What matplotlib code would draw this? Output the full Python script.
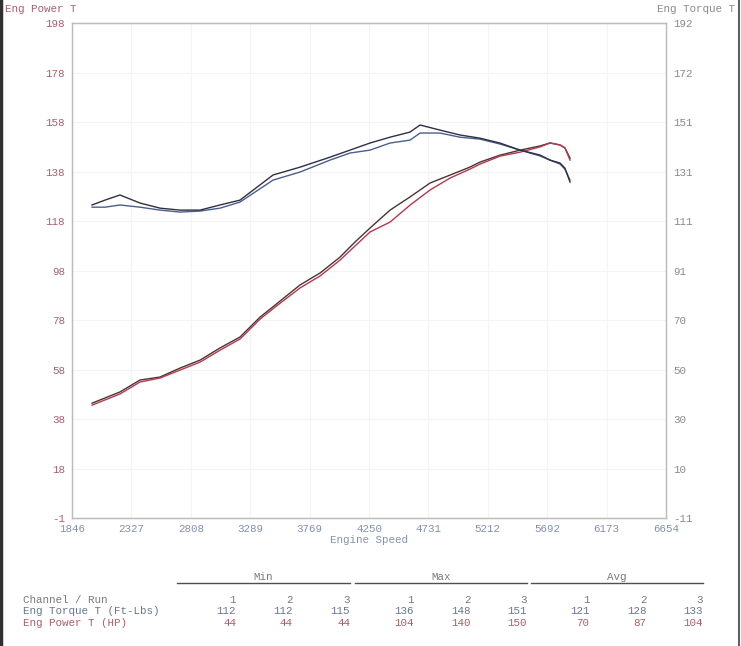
import numpy as np
import matplotlib.pyplot as plt
from matplotlib.lines import Line2D

# engine speed (rpm)
rpm_tq = [2008, 2113, 2234, 2396, 2558, 2720, 2882, 3044, 3206, 3473, 3691, 3934,
          4096, 4258, 4420, 4582, 4663, 4825, 4986, 5148, 5310, 5472, 5634, 5715,
          5796, 5836, 5877]
torque_run3 = [117.4, 119.4, 121.5, 118.2, 116.1, 115.3, 115.3, 117.4, 119.4, 129.7,
               132.9, 137.0, 139.9, 142.8, 145.2, 147.3, 150.2, 148.1, 146.1, 144.8,
               142.8, 139.9, 137.9, 135.8, 134.6, 132.5, 126.8]
torque_run2 = [116.5, 116.5, 117.4, 116.5, 115.3, 114.5, 114.9, 116.1, 118.6, 127.6,
               130.9, 135.8, 138.7, 139.9, 142.8, 144.0, 146.9, 146.9, 145.2, 144.4,
               142.4, 139.9, 137.5, 135.8, 134.2, 132.1, 127.6]

rpm_hp = [2008, 2234, 2396, 2558, 2720, 2882, 3044, 3206, 3368, 3489, 3691, 3853,
          4015, 4137, 4258, 4420, 4582, 4744, 4906, 5067, 5148, 5310, 5472, 5634,
          5715, 5796, 5836, 5877]
power_run3 = [45.2, 49.7, 54.5, 55.7, 59.3, 62.5, 67.4, 71.8, 79.8, 84.6, 92.7, 97.5,
              103.9, 110.0, 115.6, 122.8, 128.1, 133.7, 136.9, 140.1, 142.1, 144.9,
              146.9, 148.6, 149.8, 149.0, 147.8, 143.7]
power_run2 = [44.4, 48.9, 53.7, 55.3, 58.5, 61.7, 66.5, 71.0, 79.0, 83.8, 91.5, 96.3,
              102.7, 108.4, 114.0, 118.0, 124.8, 130.9, 135.7, 139.3, 141.3, 144.5,
              146.1, 148.2, 149.8, 149.0, 147.8, 142.9]

x_labels = ['1846', '2327', '2808', '3289', '3769', '4250', '4731', '5212', '5692', '6173', '6654']
hp_labels = ['-1', '18', '38', '58', '78', '98', '118', '138', '158', '178', '198']
tq_labels = ['-11', '10', '30', '50', '70', '91', '111', '131', '151', '172', '192']

runs = ['1', '2', '3']
tq_min = [112, 112, 115]
tq_max = [136, 148, 151]
tq_avg = [121, 128, 133]
hp_min = [44, 44, 44]
hp_max = [104, 140, 150]
hp_avg = [70, 87, 104]

mono = 'Liberation Mono'
fs = 7.8
c_hp = '#a8606c'
c_tq = '#687690'
c_grey = '#8a8a8a'
c_x = '#8490ae'

fig = plt.figure(figsize=(7.41, 6.46), dpi=100)
fig.patch.set_facecolor('white')
ax = fig.add_axes([0.0972, 0.198, 0.8016, 0.7663])
ax2 = ax.twinx()

ax.set_xlim(1846, 6654)
ax.set_ylim(-1, 198)
ax2.set_ylim(-11, 192)

ax.set_xticks(np.linspace(1846, 6654, 11))
ax.set_xticklabels(x_labels, fontfamily=mono, fontsize=fs, color=c_x)
ax.set_yticks(np.linspace(-1, 198, 11))
ax.set_yticklabels(hp_labels, fontfamily=mono, fontsize=fs, color=c_hp)
ax2.set_yticks(np.linspace(-11, 192, 11))
ax2.set_yticklabels(tq_labels, fontfamily=mono, fontsize=fs, color=c_grey)
ax.tick_params(length=0, pad=5)
ax.tick_params(axis='x', pad=4)
ax2.tick_params(length=0, pad=5)
ax.grid(True, color='#f5f3f3', lw=0.8)
for a in (ax, ax2):
    for s in a.spines.values():
        s.set_color('#bcbcbc')
        s.set_linewidth(0.9)

ax2.plot(rpm_tq, torque_run2, color='#4a5e8e', lw=1.0)
ax2.plot(rpm_tq, torque_run3, color='#2e3040', lw=1.0)
ax.plot(rpm_hp, power_run3, color='#4a3434', lw=1.0)
ax.plot(rpm_hp, power_run2, color='#b8384c', lw=1.0)

ax.set_xlabel('Engine Speed', fontfamily=mono, fontsize=fs, color=c_x, labelpad=1)

fig.text(5 / 741, 1 - 9 / 646, 'Eng Power T', fontfamily=mono, fontsize=fs,
         color=c_hp, va='center', ha='left')
fig.text(735 / 741, 1 - 9 / 646, 'Eng Torque T', fontfamily=mono, fontsize=fs,
         color=c_grey, va='center', ha='right')

# summary table
def fx(px):
    return px / 741

def fy(py):
    return 1 - py / 646

groups = [('Min', tq_min, hp_min, 177, 350), ('Max', tq_max, hp_max, 355, 527),
          ('Avg', tq_avg, hp_avg, 531, 703)]
fig.text(fx(23), fy(600), 'Channel / Run', fontfamily=mono, fontsize=fs, color='#7a7a7a', va='center')
fig.text(fx(23), fy(611), 'Eng Torque T (Ft-Lbs)', fontfamily=mono, fontsize=fs, color=c_tq, va='center')
fig.text(fx(23), fy(623), 'Eng Power T (HP)', fontfamily=mono, fontsize=fs, color=c_hp, va='center')
for name, tq, hp, x0, x1 in groups:
    fig.text(fx((x0 + x1) / 2), fy(577), name, fontfamily=mono, fontsize=fs,
             color='#7a7a7a', ha='center', va='center')
    fig.add_artist(Line2D([fx(x0), fx(x1)], [fy(583), fy(583)], color='#505050', lw=1.0))
    step = (x1 - x0 - 2) / 3
    for i in range(3):
        xr = x1 - (2 - i) * step
        fig.text(fx(xr), fy(600), runs[i], fontfamily=mono, fontsize=fs, color='#7a7a7a', ha='right', va='center')
        fig.text(fx(xr), fy(611), str(tq[i]), fontfamily=mono, fontsize=fs, color=c_tq, ha='right', va='center')
        fig.text(fx(xr), fy(623), str(hp[i]), fontfamily=mono, fontsize=fs, color=c_hp, ha='right', va='center')

# scan edges
fig.add_artist(Line2D([0.002, 0.002], [0, 1], color='#303030', lw=2.5))
fig.add_artist(Line2D([0.997, 0.997], [0, 1], color='#606060', lw=1.5))

fig.savefig('out.png', dpi=100)
